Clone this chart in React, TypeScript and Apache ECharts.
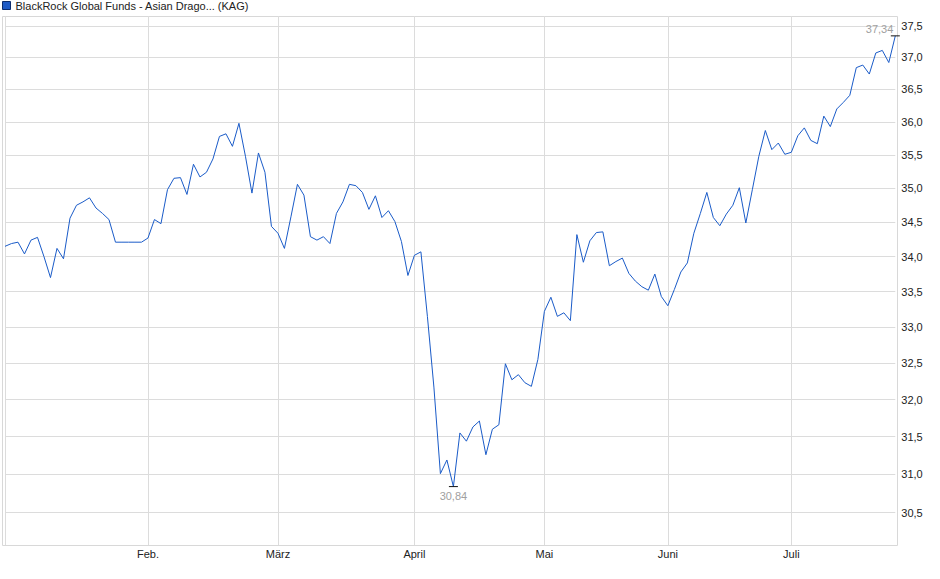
import { useEffect, useRef } from "react";
import * as echarts from "echarts";

const FONT = "'Liberation Sans', Arial, sans-serif";
const seriesName = "BlackRock Global Funds - Asian Drago... (KAG)";

const monthNames = ["Jan.", "Feb.", "März", "April", "Mai", "Juni", "Juli"];

const janValues = [
  34.15, 34.19, 34.21, 34.04, 34.24, 34.28, 34.0, 33.7, 34.12, 33.97, 34.56,
  34.75, 34.8, 34.86, 34.71, 34.63, 34.54, 34.21, 34.21, 34.21, 34.21, 34.21,
];
const febValues = [
  34.27, 34.54, 34.48, 34.98, 35.15, 35.16, 34.91, 35.36, 35.17, 35.24, 35.44,
  35.78, 35.82, 35.63, 35.98, 35.48, 34.93, 35.53, 35.24, 34.44,
];
const marValues = [
  34.34, 34.12, 34.58, 35.06, 34.9, 34.29, 34.24, 34.29, 34.19, 34.63, 34.8,
  35.06, 35.04, 34.94, 34.69, 34.89, 34.57, 34.67, 34.51, 34.22, 33.73,
];
const aprValues = [
  34.02, 34.07, 33.15, 32.17, 31.01, 31.19, 30.84, 31.55, 31.44, 31.63, 31.71,
  31.26, 31.6, 31.66, 32.49, 32.27, 32.34, 32.23, 32.18, 32.55,
];
const mayValues = [
  33.22, 33.42, 33.15, 33.2, 33.09, 34.32, 33.92, 34.23, 34.35, 34.36, 33.87,
  33.93, 33.98, 33.76, 33.65, 33.57, 33.52, 33.75, 33.43,
];
const junValues = [
  33.3, 33.53, 33.78, 33.91, 34.34, 34.63, 34.94, 34.57, 34.45, 34.62, 34.75,
  35.01, 34.49, 34.98, 35.48, 35.87, 35.58, 35.68, 35.51,
];
const julValues = [
  35.54, 35.79, 35.91, 35.72, 35.67, 36.09, 35.93, 36.2, 36.3, 36.41, 36.84,
  36.88, 36.74, 37.07, 37.11, 36.92, 37.34,
];

const yTicks = [
  30.5, 31, 31.5, 32, 32.5, 33, 33.5, 34, 34.5, 35, 35.5, 36, 36.5, 37, 37.5,
];

const monthValues = [
  janValues,
  febValues,
  marValues,
  aprValues,
  mayValues,
  junValues,
  julValues,
];

const categories: string[] = [];
const values: number[] = [];
const monthStarts = new Set<number>();
monthValues.forEach((arr, m) => {
  monthStarts.add(categories.length);
  arr.forEach((v, d) => {
    categories.push(`${monthNames[m]}|${d + 1}`);
    values.push(v);
  });
});

const fmt = (v: number, digits: number) => v.toFixed(digits).replace(".", ",");

export default function App() {
  const containerRef = useRef<HTMLDivElement>(null);

  useEffect(() => {
    document.body.style.margin = "0";
    if (!containerRef.current) return;
    const chart = echarts.init(containerRef.current, undefined, {
      renderer: "svg",
    });

    chart.setOption({
      animation: false,
      textStyle: { fontFamily: FONT },
      legend: {
        left: 2,
        top: 0,
        padding: 0,
        itemWidth: 8,
        itemHeight: 8,
        selectedMode: false,
        textStyle: { fontSize: 11, color: "#222", fontFamily: FONT },
        data: [
          {
            name: seriesName,
            icon: "rect",
            itemStyle: {
              color: "#1f5bc6",
              borderColor: "#0d2d6e",
              borderWidth: 1,
            },
          },
        ],
      },
      grid: {
        left: 5,
        right: 44.7,
        top: 16,
        bottom: 34,
        containLabel: false,
        outerBoundsMode: "none",
      },
      graphic: [
        {
          type: "rect",
          silent: true,
          z: 0,
          shape: { x: 2.5, y: 16.5, width: 895, height: 529 },
          style: { fill: "none", stroke: "#d8d8d8", lineWidth: 1 },
        },
      ],
      xAxis: {
        type: "category",
        data: categories,
        boundaryGap: false,
        axisLine: { show: true, lineStyle: { color: "#d8d8d8", width: 1 } },
        axisTick: { show: false },
        axisLabel: {
          interval: (i: number) => monthStarts.has(i) && i !== 0,
          formatter: (v: string) => v.split("|")[0],
          fontSize: 11,
          color: "#222",
          margin: 3,
          fontFamily: FONT,
        },
        splitLine: {
          show: true,
          interval: (i: number) => monthStarts.has(i),
          lineStyle: { color: "#dcdcdc", width: 1 },
        },
      },
      yAxis: {
        type: "log",
        logBase: 10,
        min: 30.085,
        max: 37.656,
        axisLine: { show: false },
        axisTick: { show: false },
        axisLabel: { show: false },
        splitLine: { show: false },
      },
      series: [
        {
          name: seriesName,
          type: "line",
          data: values,
          symbol: "none",
          z: 3,
          lineStyle: { color: "#1a5bc8", width: 1 },
          itemStyle: { color: "#1a5bc8" },
          markLine: {
            silent: true,
            z: 1,
            symbol: ["none", "none"],
            lineStyle: { color: "#dcdcdc", type: "solid", width: 1 },
            emphasis: { disabled: true },
            label: {
              position: "end",
              distance: 6,
              formatter: (p: any) => fmt(p.value, 1),
              fontSize: 11,
              color: "#222",
              fontFamily: FONT,
            },
            data: yTicks.map((v) => ({ yAxis: v })),
          },
          markPoint: {
            silent: true,
            symbol: "rect",
            symbolSize: [9, 1],
            itemStyle: { color: "#111" },
            label: {
              show: true,
              formatter: (p: any) => fmt(p.value, 2),
              fontSize: 11,
              color: "#a0a0a0",
              fontFamily: FONT,
            },
            data: [
              {
                type: "max",
                label: {
                  position: "top",
                  align: "right",
                  distance: 1,
                  offset: [-2, 0],
                },
              },
              { type: "min", label: { position: "bottom", distance: 3 } },
            ],
          },
        },
      ],
    });

    return () => {
      chart.dispose();
    };
  }, []);

  return <div ref={containerRef} style={{ width: "940px", height: "579px" }} />;
}
